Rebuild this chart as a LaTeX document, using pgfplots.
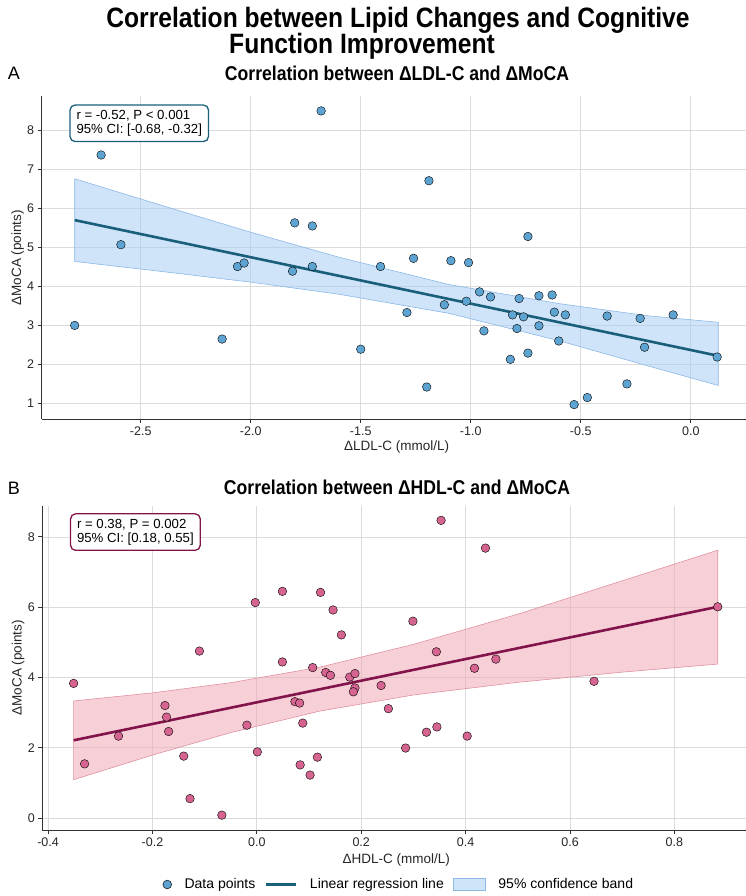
\documentclass[border=0pt]{standalone}
\usepackage{fontspec}
\setmainfont{Liberation Sans}
\newfontfamily\condfont[FakeStretch=0.88]{Liberation Sans}
\usepackage{pgfplots}
\pgfplotsset{compat=1.18}

\definecolor{ldlpt}{RGB}{94,164,210}
\definecolor{ldlline}{RGB}{26,95,122}
\definecolor{ldlband}{RGB}{168,204,244}
\definecolor{ldlbandedge}{RGB}{140,185,230}
\definecolor{hdlpt}{RGB}{214,100,145}
\definecolor{hdlline}{RGB}{130,20,75}
\definecolor{hdlband}{RGB}{239,170,181}
\definecolor{hdlbandedge}{RGB}{225,145,160}
\definecolor{ptedge}{RGB}{35,45,60}

\pgfplotsset{
  panel/.style={
    scale only axis, clip=false,
    axis lines=left,
    axis line style={-, line width=1pt, black!80},
    tick align=outside, major tick length=4pt,
    tick style={line width=0.9pt, black!80},
    grid=major, grid style={line width=0.7pt, black!14},
    ticklabel style={font=\fontsize{12.5}{14}\selectfont, text=black!85},
    /pgf/number format/assume math mode=true,
    label style={font=\fontsize{13.5}{16}\selectfont, text=black!85},
  },
  pts/.style={only marks, mark=*, mark size=4.3pt,
    mark options={draw=ptedge, line width=0.7pt}},
  linelegend/.style={legend image code/.code={\draw[##1] (0pt,0pt) -- (30pt,0pt);}},
  bandlegend/.style={legend image code/.code={\draw[##1] (0pt,-6pt) rectangle (32pt,6pt);}},
}
\tikzset{
  note/.style={anchor=north west, fill=white, rounded corners=5pt,
    line width=1.3pt, align=left, inner xsep=6.5pt, inner ysep=5pt,
    font=\fontsize{13.2}{14.5}\selectfont},
}

\begin{document}
\begin{tikzpicture}
\useasboundingbox (0pt,0pt) rectangle (745pt,-896pt);

% suptitle and panel labels
\node[font=\condfont\bfseries\fontsize{28}{32}\selectfont] at (398pt,-20pt) {Correlation between Lipid Changes and Cognitive};
\node[font=\condfont\bfseries\fontsize{28}{32}\selectfont] at (362pt,-46pt) {Function Improvement};
\node[font=\fontsize{18}{20}\selectfont] at (14pt,-73pt) {A};
\node[font=\fontsize{18}{20}\selectfont] at (14pt,-488pt) {B};
\node[font=\condfont\bfseries\fontsize{20}{23}\selectfont] at (397pt,-73pt) {Correlation between ΔLDL-C and ΔMoCA};
\node[font=\condfont\bfseries\fontsize{20}{23}\selectfont] at (397pt,-487pt) {Correlation between ΔHDL-C and ΔMoCA};

% panel A
\begin{axis}[panel,
  at={(41.7pt,-419pt)}, anchor=south west,
  width=710pt, height=322.5pt,
  xmin=-2.95, xmax=0.277, ymin=0.6, ymax=8.87,
  xtick={-2.5,-2.0,-1.5,-1.0,-0.5,0.0}, ytick={1,2,...,8},
  xticklabel style={/pgf/number format/.cd, fixed, fixed zerofill, precision=1},
  xlabel={ΔLDL-C (mmol/L)}, ylabel={ΔMoCA (points)},
  xlabel style={at={(axis description cs:0.5,-0.086)}, anchor=center},
  ylabel style={at={(axis description cs:-0.034,0.5)}, anchor=center},
]
\addplot[fill=ldlband, fill opacity=0.55, draw=ldlbandedge, line width=0.6pt]
  coordinates{(-2.80,6.76)(-2.4,6.07)(-2.0,5.39)(-1.6,4.75)(-1.1,4.05)(-0.6,3.56)(-0.2,3.25)(0.125,3.08)
              (0.125,1.46)(-0.2,1.97)(-0.6,2.61)(-1.1,3.31)(-1.6,3.80)(-2.0,4.11)(-2.4,4.38)(-2.80,4.64)(-2.80,6.76)};
\addplot[ldlline, line width=2.6pt] coordinates{(-2.80,5.70)(0.125,2.22)};
\addplot[pts, mark options={fill=ldlpt}] coordinates{
  (-1.68,8.50)(-2.68,7.37)(-2.59,5.07)(-1.80,5.63)(-1.72,5.55)(-2.06,4.51)(-2.03,4.60)
  (-1.81,4.39)(-1.72,4.51)(-1.41,4.51)(-2.80,3.00)(-2.13,2.65)(-1.50,2.39)(-1.19,6.71)
  (-0.74,5.28)(-1.26,4.72)(-1.09,4.66)(-1.01,4.61)(-0.96,3.86)(-0.91,3.73)(-1.12,3.53)
  (-1.02,3.62)(-1.29,3.33)(-0.78,3.69)(-0.69,3.76)(-0.63,3.78)(-0.81,3.27)(-0.76,3.22)
  (-0.62,3.34)(-0.57,3.27)(-0.38,3.24)(-0.23,3.18)(-0.08,3.27)(-0.94,2.86)(-0.79,2.92)
  (-0.69,2.99)(-0.60,2.60)(-0.21,2.44)(0.12,2.19)(-0.82,2.13)(-0.74,2.29)(-1.20,1.42)
  (-0.29,1.50)(-0.47,1.15)(-0.53,0.97)};
\node[note, draw=ldlline] at (axis description cs:0.039,0.9755)
  {r = -0.52, P < 0.001\\95\% CI: [-0.68, -0.32]};
\end{axis}

% panel B
\begin{axis}[panel,
  at={(42.3pt,-830pt)}, anchor=south west,
  width=707.8pt, height=324.4pt,
  xmin=-0.411, xmax=0.945, ymin=-0.343, ymax=8.89,
  xtick={-0.4,-0.2,0,0.2,0.4,0.6,0.8}, ytick={0,2,...,8},
  xticklabel style={/pgf/number format/.cd, fixed, fixed zerofill, precision=1},
  xlabel={ΔHDL-C (mmol/L)}, ylabel={ΔMoCA (points)},
  xlabel style={at={(axis description cs:0.5,-0.092)}, anchor=center},
  ylabel style={at={(axis description cs:-0.034,0.5)}, anchor=center},
  legend style={at={(0.504,-0.168)}, anchor=center, draw=none, fill=none,
    font=\fontsize{14}{16}\selectfont, legend columns=3,
    /tikz/every even column/.append style={column sep=7pt},
    /tikz/every odd column/.append style={column sep=11pt}},
  legend cell align=left,
]
\addlegendimage{only marks, mark=*, mark size=4.3pt, mark options={fill=ldlpt, draw=ptedge, line width=0.7pt}}
\addlegendentry{Data points}
\addlegendimage{linelegend, ldlline, line width=2.6pt}
\addlegendentry{Linear regression line}
\addlegendimage{bandlegend, fill=ldlband, fill opacity=0.55, draw=ldlbandedge, line width=0.6pt}
\addlegendentry{95\% confidence band}

\addplot[forget plot, fill=hdlband, fill opacity=0.55, draw=hdlbandedge, line width=0.6pt]
  coordinates{(-0.351,3.33)(-0.2,3.56)(-0.05,3.85)(0.12,4.29)(0.3,4.94)(0.5,5.80)(0.7,6.75)(0.883,7.62)
              (0.883,4.38)(0.7,4.15)(0.5,3.86)(0.3,3.50)(0.12,3.04)(-0.05,2.43)(-0.2,1.79)(-0.351,1.09)(-0.351,3.33)};
\addplot[forget plot, hdlline, line width=2.6pt] coordinates{(-0.351,2.21)(0.883,6.01)};
\addplot[forget plot, pts, mark options={fill=hdlpt}] coordinates{
  (-0.351,3.83)(-0.330,1.54)(-0.265,2.33)(-0.176,3.20)(-0.173,2.87)(-0.169,2.46)(-0.110,4.75)
  (-0.140,1.76)(-0.128,0.55)(-0.067,0.08)(-0.019,2.64)(-0.003,6.13)(0.001,1.88)(0.049,6.45)
  (0.049,4.44)(0.122,6.42)(0.146,5.92)(0.162,5.21)(0.107,4.28)(0.132,4.14)(0.141,4.06)
  (0.073,3.31)(0.082,3.27)(0.088,2.70)(0.083,1.51)(0.102,1.22)(0.116,1.73)(0.178,4.01)
  (0.188,4.11)(0.188,3.70)(0.185,3.59)(0.238,3.77)(0.252,3.11)(0.353,8.47)(0.438,7.68)
  (0.299,5.60)(0.344,4.73)(0.458,4.52)(0.417,4.26)(0.646,3.89)(0.883,6.01)(0.325,2.44)
  (0.345,2.59)(0.403,2.33)(0.285,1.99)};
\node[note, draw=hdlline] at (axis description cs:0.039,0.9766)
  {r = 0.38, P = 0.002\\95\% CI: [0.18, 0.55]};
\end{axis}
\end{tikzpicture}
\end{document}
